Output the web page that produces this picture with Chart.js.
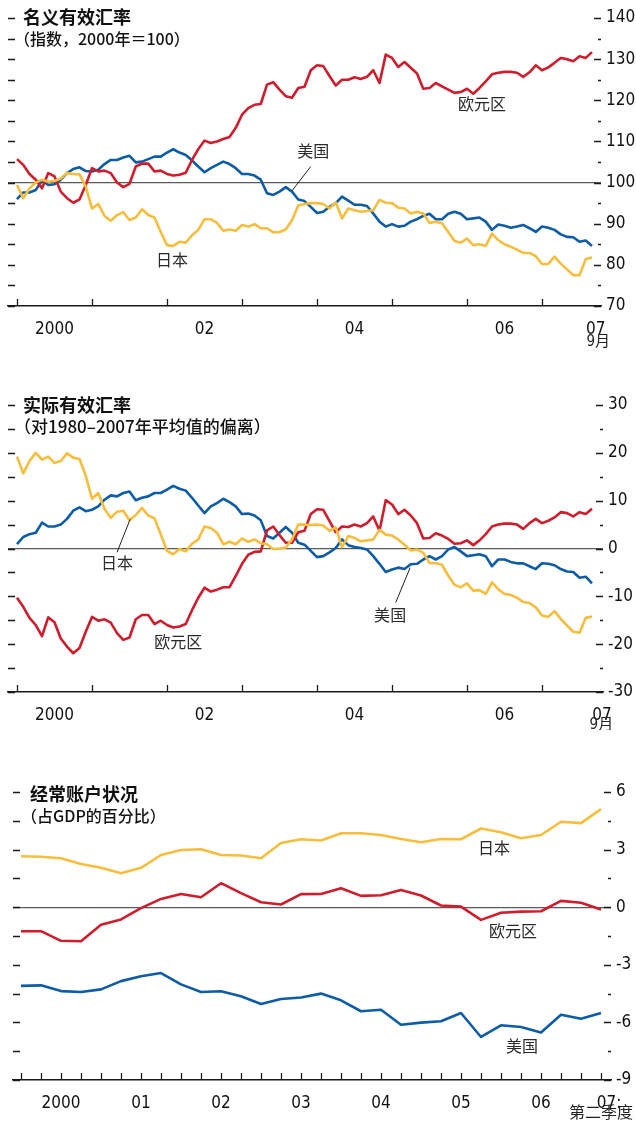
<!DOCTYPE html>
<html>
<head>
<meta charset="utf-8">
<script src="https://cdn.jsdelivr.net/npm/chart.js@4.4.1/dist/chart.umd.min.js"></script>
<style>
    html, body { margin: 0; padding: 0; background: #fff; }
    #wrap { position: relative; width: 636px; height: 1121px; overflow: hidden; }
    canvas { position: absolute; left: 0; }
</style>
</head>
<body>
<div id="wrap">
    <canvas id="nominalChart" width="636" height="350" style="top:0px;width:636px;height:350px"></canvas>
    <canvas id="realChart" width="636" height="350" style="top:380px;width:636px;height:350px"></canvas>
    <canvas id="currentChart" width="636" height="361" style="top:760px;width:636px;height:361px"></canvas>
</div>
<script>
// monthly, Jan 2000 .. Sep 2007 (index 0 = Jan 2000)
const euroNominal = [105.7,104.3,102.1,100.7,98.6,102.3,101.5,97.8,96.2,95.1,
    95.9,99.4,103.5,102.7,102.9,102.3,100,98.9,99.7,103.9,
    104.6,104.6,102.7,102.9,102.1,101.7,101.9,102.4,105.5,108.1,
    110.2,109.6,110,110.6,111.1,113.3,116.5,118.1,118.9,119.1,
    123.8,124.4,122.6,121,120.6,123,123.3,127.3,128.5,128.3,
    125.9,123.6,125,125,125.6,125.2,125.7,127.3,124.2,131.1,
    130.3,128.1,129.3,127.9,126.5,122.8,123,124.2,123.4,122.6,
    121.8,122,122.8,121.6,123,124.6,126.3,126.7,126.9,126.9,
    126.7,125.7,126.8,128.5,127.3,128,129.1,130.3,130,129.5,
    130.7,130.3,131.7];
const usNominal = [96,97.6,97.6,98.2,100.5,99.4,99.6,100.7,102.3,103.3,
    103.7,102.8,102.7,103.1,104.5,105.5,105.5,106.1,106.5,104.9,
    105.1,105.7,106.3,106.3,107.3,108.1,107.3,106.7,105.4,103.9,
    102.5,103.5,104.3,105.1,104.5,103.5,102.1,102.1,101.7,100.7,
    97.4,97,97.8,98.9,97.8,95.9,95.5,94.1,92.6,92.9,
    94.1,95,96.6,95.6,94.6,94.6,94.3,92.5,90.5,89.3,
    89.9,89.3,89.5,90.5,91.1,91.9,92.4,91.1,91.1,92.4,
    92.9,92.4,91.1,91.3,91.5,90.5,88.5,89.8,89.5,89,
    89.3,89.7,88.9,88,89.3,89,88.5,87.4,86.8,86.7,
    85.6,85.9,84.6];
const japanNominal = [99.4,96.2,98.6,100,100.7,100.2,100.4,101,102.3,102.1,
    102,99,93.7,94.8,91.9,90.7,92.1,92.8,90.9,91.5,
    93.5,92.1,91.5,88,84.8,84.6,85.6,85.4,87.2,88.5,
    91.1,91.1,90.2,88.3,88.6,88.3,89.7,89.3,89.9,88.9,
    88.9,87.9,88,88.6,90.9,94.4,94.8,95,95,94.8,
    93.7,95.2,91.3,93.7,93.3,92.9,93.1,93.3,95.8,95.1,
    95,93.9,93.7,92.5,92.9,92.5,90.2,90.5,90.1,88,
    85.8,85.4,86.4,84.8,85,84.6,87.6,86,85,84.4,
    83.7,82.9,82.9,82.1,80.2,80.2,82,80.3,78.9,77.5,
    77.5,81.4,81.8];

const japanReal = [19.2,15.7,18.3,20,18.6,19.2,17.9,18.3,19.9,19,
    18.7,15.2,10.4,11.6,8.3,6.4,7.7,7.9,5.9,7,
    8.5,6.9,6.3,3,-0.5,-1.2,-0.1,-0.6,1,1.9,
    4.6,4.3,3.3,0.9,1.4,0.9,2.1,1.4,1.9,1.1,
    0.9,-0.1,0,0.2,1.9,5,5,4.9,5,4.8,
    3.7,4.4,0.3,2.6,2.2,1.5,1.7,1.9,3.9,2.9,
    2.7,1.9,0.8,-0.4,-0.2,-0.9,-3,-3.1,-3.4,-5.7,
    -7.6,-8.1,-7.3,-8.8,-8.7,-9.5,-7.1,-8.5,-9.5,-9.7,
    -10.3,-11.2,-11.4,-12.3,-14,-14.3,-13.1,-14.7,-16.1,-17.4,
    -17.6,-14.5,-14.2];
const usReal = [0.9,2.4,3,3.3,5.4,4.6,4.6,5,6.2,7.9,
    8.6,7.8,8.1,8.8,10.2,11.1,10.9,11.6,11.9,10.1,
    10.6,10.9,11.6,11.6,12.3,13.1,12.5,12.1,10.6,9,
    7.4,8.8,9.5,10.4,9.7,8.8,7.2,7.3,6.9,5.9,
    2.6,2.1,3.3,4.5,3.3,1.2,0.8,-0.5,-1.8,-1.6,
    -0.8,0.1,1.9,0.7,0.3,0.1,-0.2,-1.6,-3.2,-4.9,
    -4.4,-4,-4.3,-3.3,-3.2,-2.3,-1.6,-2.3,-1.6,-0.2,
    0.3,-0.6,-1.6,-1.4,-1.2,-1.6,-3.7,-2.3,-2.3,-2.8,
    -3.1,-3.1,-3.7,-4.3,-3.1,-3.2,-3.5,-4.3,-4.8,-4.9,
    -6.1,-5.9,-7.3];
const euroReal = [-10.3,-12.2,-14.5,-16,-18.3,-14.4,-15.4,-18.8,-20.5,-21.9,
    -20.8,-17.4,-14.3,-15.1,-14.8,-15.5,-17.7,-19.1,-18.6,-14.8,
    -13.9,-13.9,-15.8,-15.1,-16,-16.5,-16.3,-15.8,-12.9,-10.3,
    -8.2,-9,-8.6,-8.1,-8.1,-5.7,-3.2,-1.3,-0.7,-0.6,
    3.8,4.6,2.8,1.2,1.2,3.4,3.7,7.2,8.2,8.1,
    5.7,3.4,4.6,4.5,5,4.6,5.3,6.7,3.7,10.1,
    9.2,7.2,8.1,6.9,5.3,2.1,2.2,3.2,2.7,2,
    1,1.1,1.7,0.7,1.7,3,4.6,5,5.2,5.2,
    5,4.1,5.3,6.2,5.3,5.8,6.5,7.6,7.4,6.7,
    7.6,7.2,8.3];

// quarterly, 2000 Q1 .. 2007 Q2
const japanCurrent = [2.65,2.63,2.55,2.25,2.05,1.77,2.05,2.72,2.98,3.02,
    2.72,2.69,2.55,3.34,3.54,3.47,3.85,3.85,3.76,3.55,
    3.38,3.55,3.54,4.1,3.9,3.59,3.76,4.45,4.38,5.11];
const euroCurrent = [-1.25,-1.25,-1.75,-1.77,-0.92,-0.64,-0.05,0.43,0.69,0.52,
    1.25,0.73,0.26,0.14,0.68,0.69,0.99,0.59,0.62,0.9,
    0.61,0.09,0.03,-0.66,-0.29,-0.23,-0.21,0.33,0.23,-0.12];
const usCurrent = [-4.1,-4.07,-4.37,-4.42,-4.28,-3.85,-3.6,-3.43,-4.02,-4.42,
    -4.38,-4.64,-5.04,-4.78,-4.7,-4.5,-4.85,-5.42,-5.34,-6.12,
    -6.01,-5.94,-5.51,-6.76,-6.15,-6.24,-6.53,-5.6,-5.81,-5.51];

const monthYearLabels = ["2000", "02", "04", "06", "07"];
const quarterYearLabels = ["2000", "01", "02", "03", "04", "05", "06", "07:"];

const RED = "#cf1d2d";
const BLUE = "#0d5ca8";
const YELLOW = "#f7bd3c";
const NUM_FONT = "'Liberation Sans Narrow', 'DejaVu Sans Condensed', 'Noto Sans CJK SC', sans-serif";
const CJK_FONT = "'Noto Sans CJK SC', sans-serif";
const NUM_SIZE = 17;

const toPoints = arr => arr.map((v, i) => ({ x: i, y: v }));

const econDecor = {
    id: "econDecor",
    afterDraw(chart, args, o) {
        const { ctx, chartArea: ca } = chart;
        const x = chart.scales.x;
        const y = chart.scales.y;
        ctx.save();
        ctx.strokeStyle = "#1a1a1a";
        ctx.lineWidth = 1.3;

        // dashes on both sides of the value axis
        y.ticks.forEach(t => {
            const py = Math.round(y.getPixelForValue(t.value)) + 0.5;
            const len = t.label !== "" ? 7 : 3;
            ctx.beginPath();
            ctx.moveTo(ca.left, py);
            ctx.lineTo(ca.left + 7, py);
            ctx.moveTo(ca.right - len, py);
            ctx.lineTo(ca.right, py);
            ctx.stroke();
        });

        // period marks standing on the time axis
        o.xMarks.forEach(v => {
            const px = Math.round(x.getPixelForValue(v)) + 0.5;
            ctx.beginPath();
            ctx.moveTo(px, ca.bottom);
            ctx.lineTo(px, ca.bottom - 7);
            ctx.stroke();
        });

        // leader lines
        ctx.lineWidth = 1;
        ctx.strokeStyle = "#222";
        (o.leaders || []).forEach(l => {
            ctx.beginPath();
            ctx.moveTo(x.getPixelForValue(l[0]), y.getPixelForValue(l[1]));
            ctx.lineTo(x.getPixelForValue(l[2]), y.getPixelForValue(l[3]));
            ctx.stroke();
        });

        // titles
        ctx.fillStyle = "#111";
        ctx.textBaseline = "middle";
        ctx.textAlign = "left";
        ctx.font = "bold 18px " + CJK_FONT;
        ctx.fillText(o.title[0], ca.left + o.titleDx, ca.top + o.titleDy);
        ctx.font = "500 " + o.subSize + "px " + CJK_FONT;
        ctx.fillText(o.title[1], ca.left + o.titleDx - 9, ca.top + o.titleDy + 22);

        // series names
        ctx.fillStyle = "#2a2a2a";
        ctx.textAlign = "center";
        ctx.font = "16px " + CJK_FONT;
        (o.notes || []).forEach(n => {
            ctx.fillText(n.text, x.getPixelForValue(n.x), y.getPixelForValue(n.y));
        });

        // small text under the last period label
        if (o.endNote) {
            ctx.fillStyle = "#222";
            ctx.font = o.endNote.font;
            ctx.fillText(o.endNote.text, x.getPixelForValue(o.endNote.x), ca.bottom + o.endNote.dy);
        }
        ctx.restore();
    }
};

function makeChart(id, cfg) {
    const el = document.getElementById(id);
    if (!el) return;
    new Chart(el, {
        type: "line",
        data: {
            datasets: cfg.series.map(s => ({
                data: toPoints(s.values),
                borderColor: s.color,
                borderWidth: 2.6,
                pointRadius: 0,
                tension: 0,
                borderJoinStyle: "round",
                fill: false
            }))
        },
        options: {
            responsive: false,
            animation: false,
            devicePixelRatio: 1,
            layout: { padding: cfg.padding },
            plugins: {
                legend: { display: false },
                tooltip: { enabled: false },
                econDecor: cfg.decor
            },
            scales: {
                x: {
                    type: "linear",
                    min: cfg.xMin,
                    max: cfg.xMax,
                    grid: { display: false },
                    border: { display: true, color: "#1a1a1a", width: 1.5 },
                    afterBuildTicks: s => { s.ticks = cfg.labelAt.map(v => ({ value: v })); },
                    afterFit: s => { s.height = 30; },
                    ticks: {
                        autoSkip: false,
                        maxRotation: 0,
                        minRotation: 0,
                        padding: 5,
                        color: "#111",
                        font: { family: NUM_FONT, size: NUM_SIZE },
                        callback: (v, i) => cfg.labelText[i]
                    }
                },
                y: {
                    type: "linear",
                    position: "right",
                    min: cfg.yMin,
                    max: cfg.yMax,
                    afterFit: s => { s.width = cfg.yWidth; },
                    grid: {
                        drawTicks: false,
                        lineWidth: 1.2,
                        color: c => (c.tick && c.tick.value === cfg.base ? "#5a5a5a" : "rgba(0,0,0,0)")
                    },
                    border: { display: false },
                    ticks: {
                        stepSize: cfg.step,
                        autoSkip: false,
                        padding: 5,
                        color: "#111",
                        font: { family: NUM_FONT, size: NUM_SIZE },
                        callback: v => (Math.abs(v % cfg.major) < 1e-6 ? String(v) : "")
                    }
                }
            }
        },
        plugins: [econDecor]
    });
}

const yearMarks = [0, 12, 24, 36, 48, 60, 72, 84];
const quarterMarks = japanCurrent.map((v, i) => i);

makeChart("nominalChart", {
    series: [
        { values: japanNominal, color: YELLOW },
        { values: euroNominal, color: RED },
        { values: usNominal, color: BLUE }
    ],
    padding: { top: 18, left: 8, right: 0, bottom: 14 },
    xMin: -1.44, xMax: 93.44,
    labelAt: [6, 30, 54, 78, 92.6],
    labelText: monthYearLabels,
    yMin: 70, yMax: 140, step: 5, major: 10, base: 100, yWidth: 35,
    decor: {
        xMarks: yearMarks,
        title: ["名义有效汇率", "（指数，2000年＝100）"],
        titleDx: 15, titleDy: -1, subSize: 16,
        notes: [
            { text: "日本", x: 24.8, y: 81.3 },
            { text: "美国", x: 47.4, y: 107.8 },
            { text: "欧元区", x: 74.4, y: 119 }
        ],
        leaders: [[47, 103.9, 44, 98]],
        endNote: { text: "9月", x: 93, dy: 36, font: "15px " + NUM_FONT }
    }
});

makeChart("realChart", {
    series: [
        { values: japanReal, color: YELLOW },
        { values: euroReal, color: RED },
        { values: usReal, color: BLUE }
    ],
    padding: { top: 25, left: 8, right: 0, bottom: 8 },
    xMin: -1.44, xMax: 93.76,
    labelAt: [6, 30, 54, 78, 93.6],
    labelText: monthYearLabels,
    yMin: -30, yMax: 30, step: 5, major: 10, base: 0, yWidth: 33,
    decor: {
        xMarks: yearMarks,
        title: ["实际有效汇率", "（对1980–2007年平均值的偏离）"],
        titleDx: 15, titleDy: 0, subSize: 17,
        notes: [
            { text: "日本", x: 16, y: -3.1 },
            { text: "欧元区", x: 25.8, y: -19.5 },
            { text: "美国", x: 59.7, y: -13.8 }
        ],
        leaders: [[16, -0.8, 18.1, 6.1], [60.6, -11.3, 62.9, -4]],
        endNote: { text: "9月", x: 93.5, dy: 33, font: "15px " + NUM_FONT }
    }
});

makeChart("currentChart", {
    series: [
        { values: japanCurrent, color: YELLOW },
        { values: euroCurrent, color: RED },
        { values: usCurrent, color: BLUE }
    ],
    padding: { top: 32, left: 13, right: 0, bottom: 11 },
    xMin: -0.4, xMax: 29.5,
    labelAt: [2, 6, 10, 14, 18, 22, 26, 29.4],
    labelText: quarterYearLabels,
    yMin: -9, yMax: 6, step: 1.5, major: 3, base: 0, yWidth: 25,
    decor: {
        xMarks: quarterMarks,
        title: ["经常账户状况", "（占GDP的百分比）"],
        titleDx: 17, titleDy: 2, subSize: 16,
        notes: [
            { text: "日本", x: 23.65, y: 3.1 },
            { text: "欧元区", x: 24.6, y: -1.25 },
            { text: "美国", x: 25.05, y: -7.2 }
        ],
        endNote: { text: "第二季度", x: 29, dy: 32, font: "16px " + CJK_FONT }
    }
});
</script>
</body>
</html>
